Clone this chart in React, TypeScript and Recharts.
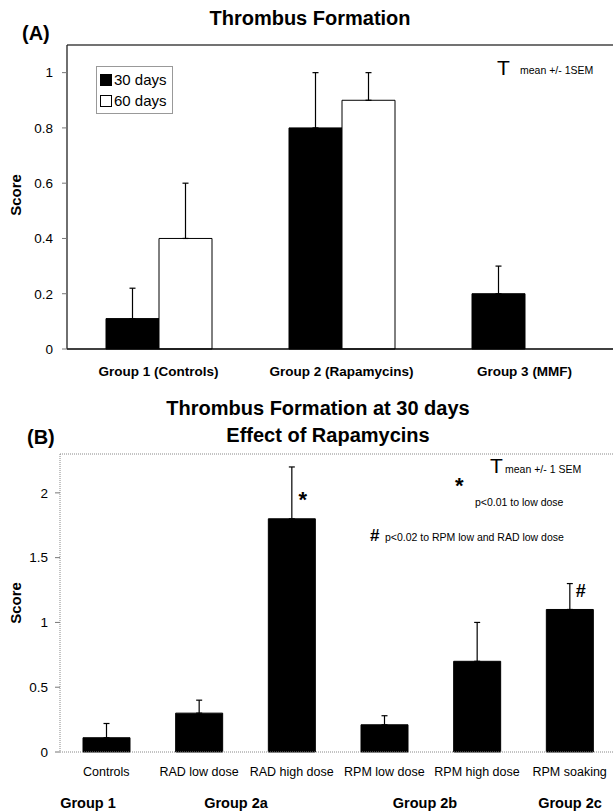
import React from "react";
import { BarChart, Bar, XAxis, YAxis, ErrorBar, ReferenceLine, Legend, LabelList } from "recharts";

// panel A
const groupsA = ["Group 1 (Controls)", "Group 2 (Rapamycins)", "Group 3 (MMF)"];
const days30 = [0.11, 0.8, 0.2];
const days30Sem = [0.11, 0.2, 0.1];
const days60 = [0.4, 0.9, null];
const days60Sem = [0.2, 0.1, null];
const ticksA = [0, 0.2, 0.4, 0.6, 0.8, 1];

// panel B
const treatmentsB = ["Controls", "RAD low dose", "RAD high dose", "RPM low dose", "RPM high dose", "RPM soaking"];
const scoreB = [0.11, 0.3, 1.8, 0.21, 0.7, 1.1];
const semB = [0.11, 0.1, 0.4, 0.07, 0.3, 0.2];
const marksB = ["", "", "*", "", "", "#"];
const ticksB = [0, 0.5, 1, 1.5, 2];
const groupLabelsB = ["Group 1", "Group 2a", "Group 2b", "Group 2c"];
const groupLabelX = [88, 236, 425, 570];

const FONT = "'Liberation Sans', Arial, sans-serif";

const dataA = groupsA.map((g, i) => ({
  group: g,
  d30: days30[i],
  d30Err: [0, days30Sem[i]],
  d60: days60[i],
  d60Err: days60[i] == null ? null : [0, days60Sem[i] as number],
}));

const dataB = treatmentsB.map((t, i) => ({
  name: t,
  score: scoreB[i],
  err: [0, semB[i]],
  mark: marksB[i],
}));

function Txt({ x, y, size, bold, anchor = "start", rotate, children }: any) {
  const tx = anchor === "middle" ? "-50%" : anchor === "end" ? "-100%" : "0";
  return (
    <div
      style={{
        position: "absolute",
        left: x,
        top: y,
        fontSize: size,
        fontWeight: bold ? 700 : 400,
        lineHeight: 1,
        whiteSpace: "nowrap",
        transform: `translate(${tx}, -50%)${rotate ? ` rotate(${rotate}deg)` : ""}`,
      }}
    >
      {children}
    </div>
  );
}

function LegendBox({ payload }: any) {
  return (
    <div
      style={{
        border: "1px solid #999",
        padding: "2px 5px 2px 3px",
        background: "#fff",
        fontFamily: FONT,
        whiteSpace: "nowrap",
        display: "inline-block",
        textAlign: "left",
      }}
    >
      {(payload || []).map((p: any) => (
        <div key={p.value} style={{ display: "flex", alignItems: "center", fontSize: 15, lineHeight: "21px", color: "#000" }}>
          <span style={{ width: 10, height: 10, border: "1px solid #000", background: p.color, marginRight: 2, flexShrink: 0 }} />
          {p.value}
        </div>
      ))}
    </div>
  );
}

function MarkLabel(props: any) {
  const { x, y, width, index } = props;
  const m = marksB[index];
  if (!m) return null;
  return (
    <text x={x + width / 2 + 11} y={y - 19} dy="0.35em" textAnchor="middle" fontSize={m === "*" ? 22 : 18} fontWeight={700} fill="#000">
      {m}
    </text>
  );
}

export default function App() {
  return (
    <div style={{ position: "absolute", left: 0, top: 0, width: 613, height: 812, overflow: "hidden", background: "#fff", fontFamily: FONT, color: "#000" }}>
      {/* panel A */}
      <div style={{ position: "absolute", left: 0, top: 0 }}>
        <BarChart width={620} height={395} data={dataA} margin={{ top: 45, right: 4, bottom: 16, left: 0 }} barGap={0}>
          <XAxis
            dataKey="group"
            height={30}
            axisLine={{ stroke: "#000", strokeWidth: 1.3 }}
            tickLine={false}
            tickMargin={11}
            tick={{ fill: "#000", fontSize: 13.5, fontWeight: 700, fontFamily: FONT }}
          />
          <YAxis
            width={67}
            domain={[0, 1.1]}
            ticks={ticksA}
            axisLine={{ stroke: "#222", strokeWidth: 1.3 }}
            tickLine={{ stroke: "#777" }}
            tickSize={5}
            tickMargin={9}
            tick={{ fill: "#000", fontSize: 13.5, fontFamily: FONT }}
          />
          <ReferenceLine y={1.1} stroke="#444" strokeWidth={1.5} />
          <Legend
            layout="vertical"
            align="center"
            verticalAlign="middle"
            wrapperStyle={{ left: 96, top: 66, width: "auto" }}
            content={<LegendBox />}
          />
          <Bar dataKey="d30" name="30 days" fill="#000" stroke="#000" barSize={53} isAnimationActive={false}>
            <ErrorBar dataKey="d30Err" direction="y" width={3} stroke="#000" strokeWidth={1.2} />
          </Bar>
          <Bar dataKey="d60" name="60 days" fill="#fff" stroke="#000" barSize={53} isAnimationActive={false}>
            <ErrorBar dataKey="d60Err" direction="y" width={3} stroke="#000" strokeWidth={1.2} />
          </Bar>
        </BarChart>
      </div>

      <Txt x={22} y={33} size={20} bold>(A)</Txt>
      <Txt x={310} y={18} size={20} bold anchor="middle">Thrombus Formation</Txt>
      <Txt x={15} y={195} size={15} bold anchor="middle" rotate={-90}>Score</Txt>
      <Txt x={497} y={67} size={21}>T</Txt>
      <Txt x={520} y={70} size={10.5}>mean +/- 1SEM</Txt>

      {/* panel B */}
      <div style={{ position: "absolute", left: 0, top: 395 }}>
        <BarChart width={620} height={417} data={dataB} margin={{ top: 59, right: 4, bottom: 30, left: 0 }}>
          <XAxis
            dataKey="name"
            height={30}
            axisLine={{ stroke: "#888", strokeDasharray: "1 1" }}
            tickLine={false}
            tickMargin={9}
            tick={{ fill: "#000", fontSize: 12.5, fontFamily: FONT }}
          />
          <YAxis
            width={60}
            domain={[0, 2.3]}
            ticks={ticksB}
            axisLine={{ stroke: "#888", strokeDasharray: "1 1" }}
            tickLine={{ stroke: "#777" }}
            tickSize={5}
            tickMargin={7}
            tick={{ fill: "#000", fontSize: 13.5, fontFamily: FONT }}
          />
          <ReferenceLine y={2.3} stroke="#888" strokeDasharray="1 1" />
          <Bar dataKey="score" fill="#000" stroke="#000" barSize={47} isAnimationActive={false}>
            <ErrorBar dataKey="err" direction="y" width={3} stroke="#000" strokeWidth={1.2} />
            <LabelList dataKey="mark" content={<MarkLabel />} />
          </Bar>
        </BarChart>
      </div>

      <Txt x={27} y={437} size={20} bold>(B)</Txt>
      <Txt x={318} y={408} size={20} bold anchor="middle">Thrombus Formation at 30 days</Txt>
      <Txt x={328} y={435} size={20} bold anchor="middle">Effect of Rapamycins</Txt>
      <Txt x={15} y={603} size={15} bold anchor="middle" rotate={-90}>Score</Txt>
      <Txt x={490} y={465} size={21}>T</Txt>
      <Txt x={505} y={469} size={10.5}>mean +/- 1 SEM</Txt>
      <Txt x={455} y={486} size={22} bold>*</Txt>
      <Txt x={475} y={502} size={10.5}>p&lt;0.01 to low dose</Txt>
      <Txt x={370} y={535} size={17} bold>#</Txt>
      <Txt x={385} y={537} size={10.5}>p&lt;0.02 to RPM low and RAD low dose</Txt>
      {groupLabelsB.map((g, i) => (
        <Txt key={g} x={groupLabelX[i]} y={803} size={14.5} bold anchor="middle">{g}</Txt>
      ))}
    </div>
  );
}
